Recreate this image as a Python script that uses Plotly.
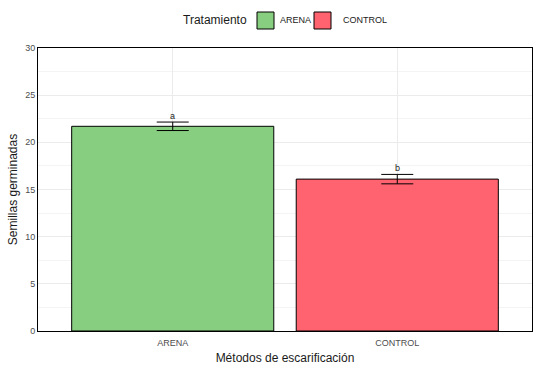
import plotly.graph_objects as go

categories = ["ARENA", "CONTROL"]
means = [21.7, 16.1]
errors = [0.45, 0.5]
letters = ["a", "b"]
colors = ["#88CE80", "#FF6370"]
y_ticks = [0, 5, 10, 15, 20, 25, 30]
legend_title = "Tratamiento"

W, H = 538, 368
L, R, T, B = 38, 6, 48, 37
pw, ph = W - L - R, H - T - B

def px(x):
    return (x - L) / pw

def py(y):
    return (H - B - y) / ph

fig = go.Figure()
for cat, m, e, c in zip(categories, means, errors, colors):
    fig.add_trace(go.Bar(
        x=[cat], y=[m], name=cat, width=0.9, showlegend=False,
        marker=dict(color=c, line=dict(color="black", width=1)),
        error_y=dict(type="data", array=[e], color="black", thickness=1, width=16),
        hoverinfo="skip",
    ))

for cat, m, e, l in zip(categories, means, errors, letters):
    fig.add_annotation(x=cat, y=m + e, text=l, showarrow=False, yanchor="bottom",
                       yshift=-1, font=dict(size=9, color="#1a1a1a"))

# legend drawn manually (ggplot style)
fig.add_annotation(xref="paper", yref="paper", x=px(249), y=py(20.5), text=legend_title,
                   showarrow=False, xanchor="right", yanchor="middle",
                   font=dict(size=12, color="#1a1a1a"))
box_x = [257, 314]
text_x = [278, 341]
for cat, c, bx, tx in zip(categories, colors, box_x, text_x):
    fig.add_shape(type="rect", xref="paper", yref="paper",
                  x0=px(bx), x1=px(bx + 17), y0=py(29), y1=py(12),
                  fillcolor=c, line=dict(color="black", width=1))
    fig.add_annotation(xref="paper", yref="paper", x=px(tx), y=py(20.5), text=cat,
                       showarrow=False, xanchor="left", yanchor="middle",
                       font=dict(size=9, color="#1a1a1a"))

fig.update_layout(
    width=W, height=H,
    margin=dict(l=L, r=R, t=T, b=B, autoexpand=False),
    paper_bgcolor="white", plot_bgcolor="white",
    font=dict(family="Liberation Sans, Arial", color="#1a1a1a"),
    barmode="overlay",
    showlegend=False,
)
fig.update_xaxes(
    range=[-0.6, 1.6], showgrid=True, gridcolor="#ebebeb", gridwidth=1,
    showline=True, linecolor="black", mirror=True, linewidth=1, automargin=False,
    ticks="", tickfont=dict(size=9, color="#4d4d4d"), ticklabelstandoff=3,
    title=dict(text="Métodos de escarificación", font=dict(size=12), standoff=6),
)
fig.update_yaxes(
    range=[0, 30], tickvals=y_ticks, showgrid=True, gridcolor="#ebebeb", gridwidth=1,
    minor=dict(dtick=2.5, showgrid=True, gridcolor="#f4f4f4", gridwidth=0.5),
    showline=True, linecolor="black", mirror=True, linewidth=1, zeroline=False,
    automargin=False,
    ticks="", tickfont=dict(size=9, color="#4d4d4d"),
    title=dict(text="Semillas germinadas", font=dict(size=12), standoff=4),
)
fig.write_html("out.html", config={"displayModeBar": False},
               post_script="document.body.style.margin='0';document.body.style.overflow='hidden';")
